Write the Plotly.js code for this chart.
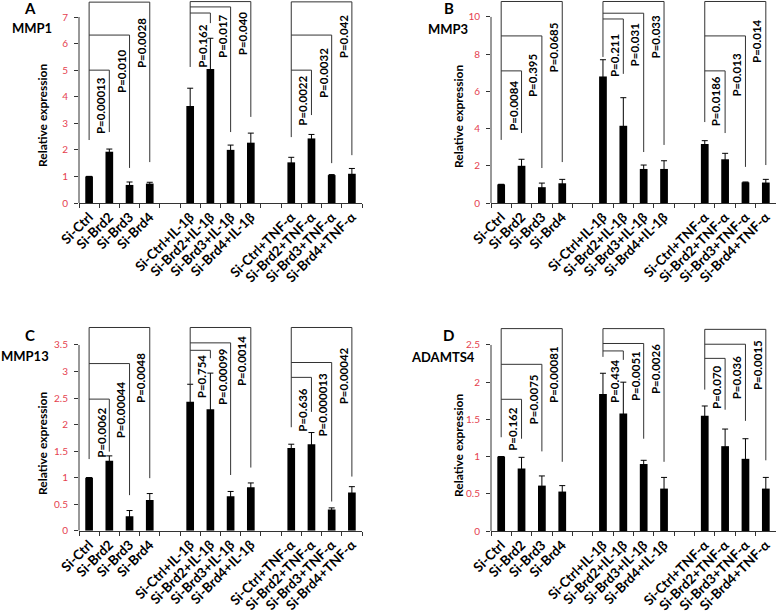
<!DOCTYPE html>
<html>
<head>
<meta charset="utf-8">
<script src="https://cdn.plot.ly/plotly-3.0.1.min.js"></script>
<style>
  html, body { margin: 0; padding: 0; background: #fff; }
  #chart { width: 777px; height: 613px; }
</style>
</head>
<body>
<div id="chart"></div>
<script>
// categories (two blank slots separate the three treatment groups)
const categories = [
  "Si-Ctrl", "Si-Brd2", "Si-Brd3", "Si-Brd4",
  "Si-Ctrl+IL-1β", "Si-Brd2+IL-1β", "Si-Brd3+IL-1β", "Si-Brd4+IL-1β",
  "Si-Ctrl+TNF-α", "Si-Brd2+TNF-α", "Si-Brd3+TNF-α", "Si-Brd4+TNF-α"
];
const gapSlots = [" ", "  "];

// MMP1
const mmp1Values = [1.0, 1.93, 0.68, 0.73, 3.65, 5.04, 2.0, 2.27, 1.53, 2.43, 1.05, 1.1];
const mmp1Errors = [0, 0.1, 0.11, 0.05, 0.67, 1.16, 0.18, 0.36, 0.19, 0.15, 0.02, 0.2];
const mmp1P = [["P=0.00013", "P=0.010", "P=0.0028"], ["P=0.162", "P=0.017", "P=0.040"], ["P=0.0022", "P=0.0032", "P=0.042"]];

// MMP3
const mmp3Values = [1.0, 2.0, 0.85, 1.06, 6.8, 4.15, 1.83, 1.83, 3.17, 2.35, 1.11, 1.1];
const mmp3Errors = [0, 0.35, 0.22, 0.21, 0.9, 1.51, 0.21, 0.44, 0.18, 0.32, 0.02, 0.17];
const mmp3P = [["P=0.0084", "P=0.395", "P=0.0685"], ["P=0.211", "P=0.031", "P=0.033"], ["P=0.0186", "P=0.013", "P=0.014"]];

// MMP13
const mmp13Values = [1.0, 1.32, 0.27, 0.58, 2.43, 2.29, 0.65, 0.82, 1.56, 1.63, 0.40, 0.72];
const mmp13Errors = [0, 0.09, 0.11, 0.12, 0.33, 0.68, 0.09, 0.08, 0.07, 0.22, 0.03, 0.11];
const mmp13P = [["P=0.0062", "P=0.00044", "P=0.0048"], ["P=0.754", "P=0.00099", "P=0.0014"], ["P=0.636", "P=0.000013", "P=0.00042"]];

// ADAMTS4
const adamts4Values = [1.0, 0.84, 0.61, 0.53, 1.84, 1.58, 0.9, 0.57, 1.55, 1.14, 0.97, 0.57];
const adamts4Errors = [0, 0.15, 0.13, 0.08, 0.28, 0.42, 0.05, 0.15, 0.13, 0.23, 0.27, 0.15];
const adamts4P = [["P=0.162", "P=0.0075", "P=0.00081"], ["P=0.434", "P=0.0051", "P=0.0026"], ["P=0.070", "P=0.036", "P=0.0015"]];

const W = 777, H = 613;
const FONT = "Lato, 'Open Sans', sans-serif";
const RED = "#e5414f";
const LINE = "#333";

const slots = [].concat(categories.slice(0, 4), [gapSlots[0]], categories.slice(4, 8), [gapSlots[1]], categories.slice(8));

// bracket geometry per group: control slot, bottom of its leg, and per comparison [level, leg end, label top]
const panels = [
  {
    letter: "A", gene: "MMP1", values: mmp1Values, errors: mmp1Errors, pvals: mmp1P,
    px: [79, 362], py: [0, 203], top: 7.64, maxTick: 7, dtick: 1,
    letterPos: [30, 8], genePos: [32, 28], titlePos: [42, 116],
    brackets: [
      { ctrl: 0, bottom: 2.37, comps: [[5.0, 2.67, 4.78], [6.32, 1.32, 5.83], [7.56, 1.54, 7.0]] },
      { ctrl: 5, bottom: 5.12, comps: [[7.15, 6.77, 6.77], [7.38, 2.67, 7.15], [7.58, 3.24, 7.26]] },
      { ctrl: 10, bottom: 2.48, comps: [[5.0, 3.31, 4.82], [6.32, 1.5, 5.87], [7.57, 1.8, 7.15]] }
    ]
  },
  {
    letter: "B", gene: "MMP3", values: mmp3Values, errors: mmp3Errors, pvals: mmp3P,
    px: [491, 776], py: [0, 203], top: 10.91, maxTick: 10, dtick: 2,
    letterPos: [449, 8], genePos: [448, 29], titlePos: [458, 117],
    brackets: [
      { ctrl: 0, bottom: 3.39, comps: [[7.1, 3.76, 6.61], [8.98, 1.88, 8.12], [10.83, 2.2, 9.73]] },
      { ctrl: 5, bottom: 7.85, comps: [[9.89, 6.94, 9.14], [10.2, 2.74, 9.73], [10.83, 3.12, 10.2]] },
      { ctrl: 10, bottom: 4.35, comps: [[7.1, 3.76, 6.88], [8.98, 1.94, 8.12], [10.83, 2.04, 9.95]] }
    ]
  },
  {
    letter: "C", gene: "MMP13", values: mmp13Values, errors: mmp13Errors, pvals: mmp13P,
    px: [79, 362], py: [326, 530.7], top: 3.858, maxTick: 3.5, dtick: 0.5,
    letterPos: [30, 335], genePos: [25, 356], titlePos: [42, 444],
    brackets: [
      { ctrl: 0, bottom: 1.35, comps: [[2.48, 1.49, 2.33], [3.15, 0.67, 2.84], [3.83, 0.99, 3.37]] },
      { ctrl: 5, bottom: 2.75, comps: [[3.40, 3.25, 3.34], [3.54, 1.05, 3.47], [3.83, 1.19, 3.69]] },
      { ctrl: 10, bottom: 1.95, comps: [[2.89, 2.24, 2.71], [3.17, 0.55, 3.0], [3.83, 1.02, 3.47]] }
    ]
  },
  {
    letter: "D", gene: "ADAMTS4", values: adamts4Values, errors: adamts4Errors, pvals: adamts4P,
    px: [491, 776], py: [326, 531], top: 2.755, maxTick: 2.5, dtick: 0.5,
    letterPos: [448, 335], genePos: [443, 357], titlePos: [458, 446],
    brackets: [
      { ctrl: 0, bottom: 1.26, comps: [[1.77, 1.24, 1.68], [2.24, 1.07, 2.12], [2.72, 0.93, 2.5]] },
      { ctrl: 5, bottom: 2.34, comps: [[2.42, 2.30, 2.32], [2.52, 1.24, 2.43], [2.72, 0.93, 2.53]] },
      { ctrl: 10, bottom: 1.90, comps: [[2.32, 1.63, 2.25], [2.51, 1.48, 2.37], [2.71, 0.95, 2.58]] }
    ]
  }
];

const data = [];
const layout = {
  width: W, height: H,
  margin: { l: 0, r: 0, t: 0, b: 0 },
  paper_bgcolor: "#fff", plot_bgcolor: "#fff",
  showlegend: false,
  font: { family: FONT, color: "#000" },
  shapes: [], annotations: []
};

const px2x = (v) => v / W;
const py2y = (v) => 1 - v / H;

panels.forEach((p, k) => {
  const n = k + 1;
  const xa = n === 1 ? "x" : "x" + n;
  const ya = n === 1 ? "y" : "y" + n;
  const xName = n === 1 ? "xaxis" : "xaxis" + n;
  const yName = n === 1 ? "yaxis" : "yaxis" + n;

  data.push({
    type: "bar", x: categories, y: p.values, xaxis: xa, yaxis: ya,
    width: 0.38,
    marker: { color: "#000" },
    error_y: { type: "data", array: p.errors, visible: true, color: "#000", thickness: 1, width: 3 },
    hoverinfo: "x+y"
  });

  layout[xName] = {
    domain: [px2x(p.px[0]), px2x(p.px[1])], anchor: ya, type: "category",
    categoryorder: "array", categoryarray: slots, range: [-0.5, slots.length - 0.5],
    tickson: "boundaries", ticks: "outside", ticklen: 4, tickcolor: LINE,
    showline: true, linecolor: LINE, linewidth: 1,
    showgrid: false, zeroline: false,
    tickangle: -45,
    tickfont: { family: FONT, size: 13.5, color: "#000", weight: "bold" }
  };
  // second axis only for the upper half of the crossing tick marks
  layout["xaxis" + (n + 4)] = {
    overlaying: xa, anchor: ya, type: "linear",
    range: [-0.5, slots.length - 0.5], tickmode: "linear", tick0: -0.5, dtick: 1,
    ticks: "inside", ticklen: 4, tickcolor: LINE,
    showticklabels: false, showgrid: false, zeroline: false, showline: false
  };
  layout[yName] = {
    domain: [py2y(p.py[1]), py2y(p.py[0])], anchor: xa,
    range: [0, p.top], tick0: 0, dtick: p.dtick,
    ticks: "outside", ticklen: 4, tickcolor: LINE, ticklabelstandoff: 4,
    showline: false, showgrid: false, zeroline: false,
    tickfont: { family: FONT, size: 10, color: RED }
  };

  // y axis line, only up to the last tick
  layout.shapes.push({
    type: "line", xref: xa + " domain", yref: ya, x0: 0, x1: 0, y0: 0, y1: p.maxTick,
    line: { color: LINE, width: 1 }
  });

  // significance brackets
  p.brackets.forEach((b, g) => {
    const topLevel = Math.max.apply(null, b.comps.map((c) => c[0]));
    const c0 = b.ctrl;
    layout.shapes.push({
      type: "line", xref: xa, yref: ya, x0: c0, x1: c0, y0: b.bottom, y1: topLevel,
      line: { color: LINE, width: 1 }
    });
    b.comps.forEach((c, j) => {
      const ci = c0 + j + 1;
      layout.shapes.push({
        type: "path", xref: xa, yref: ya,
        path: "M" + c0 + "," + c[0] + " L" + ci + "," + c[0] + " L" + ci + "," + c[1],
        line: { color: LINE, width: 1 }
      });
      layout.annotations.push({
        xref: xa, yref: ya, x: ci - 0.43, y: c[2],
        text: p.pvals[g][j], textangle: -90, showarrow: false,
        xanchor: "center", yanchor: "top", borderpad: 0,
        font: { family: FONT, size: 11.5, color: "#000", weight: "bold" }
      });
    });
  });

  // panel letter, gene name, axis title
  layout.annotations.push({
    xref: "paper", yref: "paper", x: px2x(p.letterPos[0]), y: py2y(p.letterPos[1]),
    text: p.letter, showarrow: false, xanchor: "center", yanchor: "middle",
    font: { family: FONT, size: 15, color: "#000", weight: "bold" }
  });
  layout.annotations.push({
    xref: "paper", yref: "paper", x: px2x(p.genePos[0]), y: py2y(p.genePos[1]),
    text: p.gene, showarrow: false, xanchor: "center", yanchor: "middle",
    font: { family: FONT, size: 13, color: "#000", weight: "bold" }
  });
  layout.annotations.push({
    xref: "paper", yref: "paper", x: px2x(p.titlePos[0]), y: py2y(p.titlePos[1]),
    text: "Relative expression", textangle: -90, showarrow: false,
    xanchor: "center", yanchor: "middle",
    font: { family: FONT, size: 12, color: "#000", weight: "bold" }
  });
});

Plotly.newPlot("chart", data, layout, { displayModeBar: false, staticPlot: true });
</script>
</body>
</html>
